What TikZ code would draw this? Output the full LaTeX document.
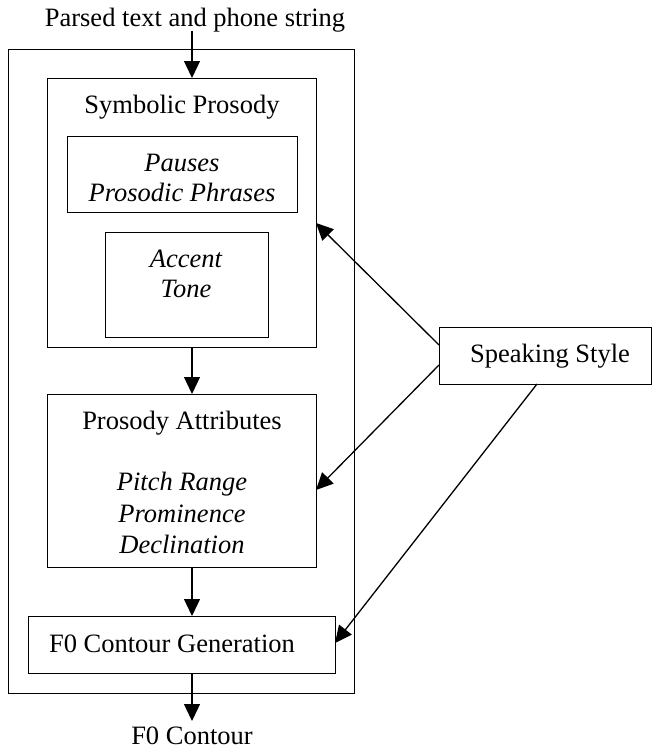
\documentclass[tikz,border=0pt]{standalone}
\usepackage{fontspec}
\setmainfont{Liberation Serif}
\usetikzlibrary{arrows.meta}
\begin{document}
\begin{tikzpicture}[x=1pt,y=-1pt,
  every node/.style={font=\fontsize{26.5}{31.5}\selectfont, inner sep=0pt},
  boxnode/.style={draw, line width=1.3pt, anchor=north west},
  txt/.style={anchor=base},
  itxt/.style={anchor=base, font=\fontsize{26.5}{31.5}\selectfont\itshape},
  flow/.style={line width=1.3pt, -{Triangle[length=17pt,width=16pt]}},
]
\useasboundingbox (0,0) rectangle (652,750);
% boxes
\node[boxnode, minimum width=346pt, minimum height=644pt] (outer) at (8,49) {};
\node[boxnode, minimum width=269pt, minimum height=269pt] (sp) at (47,78) {};
\node[boxnode, minimum width=230pt, minimum height=76pt] (pa1) at (67,136) {};
\node[boxnode, minimum width=163pt, minimum height=105pt] (ac) at (105,232) {};
\node[boxnode, minimum width=269pt, minimum height=173pt] (pa) at (47,394) {};
\node[boxnode, minimum width=307pt, minimum height=57pt] (f0) at (28,616) {};
\node[boxnode, minimum width=212pt, minimum height=57pt] (ss) at (439,327) {};
% texts
\node[txt] (tin) at (195,26) {Parsed text and phone string};
\node[txt] (tsp) at (182,113) {Symbolic Prosody};
\node[itxt] (tpa1a) at (182,171) {Pauses};
\node[itxt] (tpa1b) at (182,201) {Prosodic Phrases};
\node[itxt] (taca) at (186,267) {Accent};
\node[itxt] (tacb) at (186,297) {Tone};
\node[txt] (tpa) at (182,429) {Prosody Attributes};
\node[itxt] (tpa2a) at (182,490) {Pitch Range};
\node[itxt] (tpa2b) at (182,522) {Prominence};
\node[itxt] (tpa2c) at (182,553) {Declination};
\node[txt] (tf0) at (172,652) {F0 Contour Generation};
\node[txt] (tss) at (550,362) {Speaking Style};
\node[txt] (tout) at (192,744) {F0 Contour};
% connectors
\coordinate (inbeg) at (192,31);
\coordinate (outend) at (192,721);
\draw[flow] (inbeg) -- (sp.north -| inbeg);
\draw[flow] (sp.south -| inbeg) -- (pa.north -| inbeg);
\draw[flow] (pa.south -| inbeg) -- (f0.north -| inbeg);
\draw[flow] (f0.south -| inbeg) -- (outend);
\coordinate (s1) at (439,345);
\coordinate (s2) at (439,365);
\coordinate (s3) at (537,384);
\coordinate (e1) at (316,223);
\coordinate (e2) at (316,490);
\coordinate (e3) at (335,643);
\draw[flow] (s1) -- (e1);
\draw[flow] (s2) -- (e2);
\draw[flow] (s3) -- (e3);
\end{tikzpicture}
\end{document}
